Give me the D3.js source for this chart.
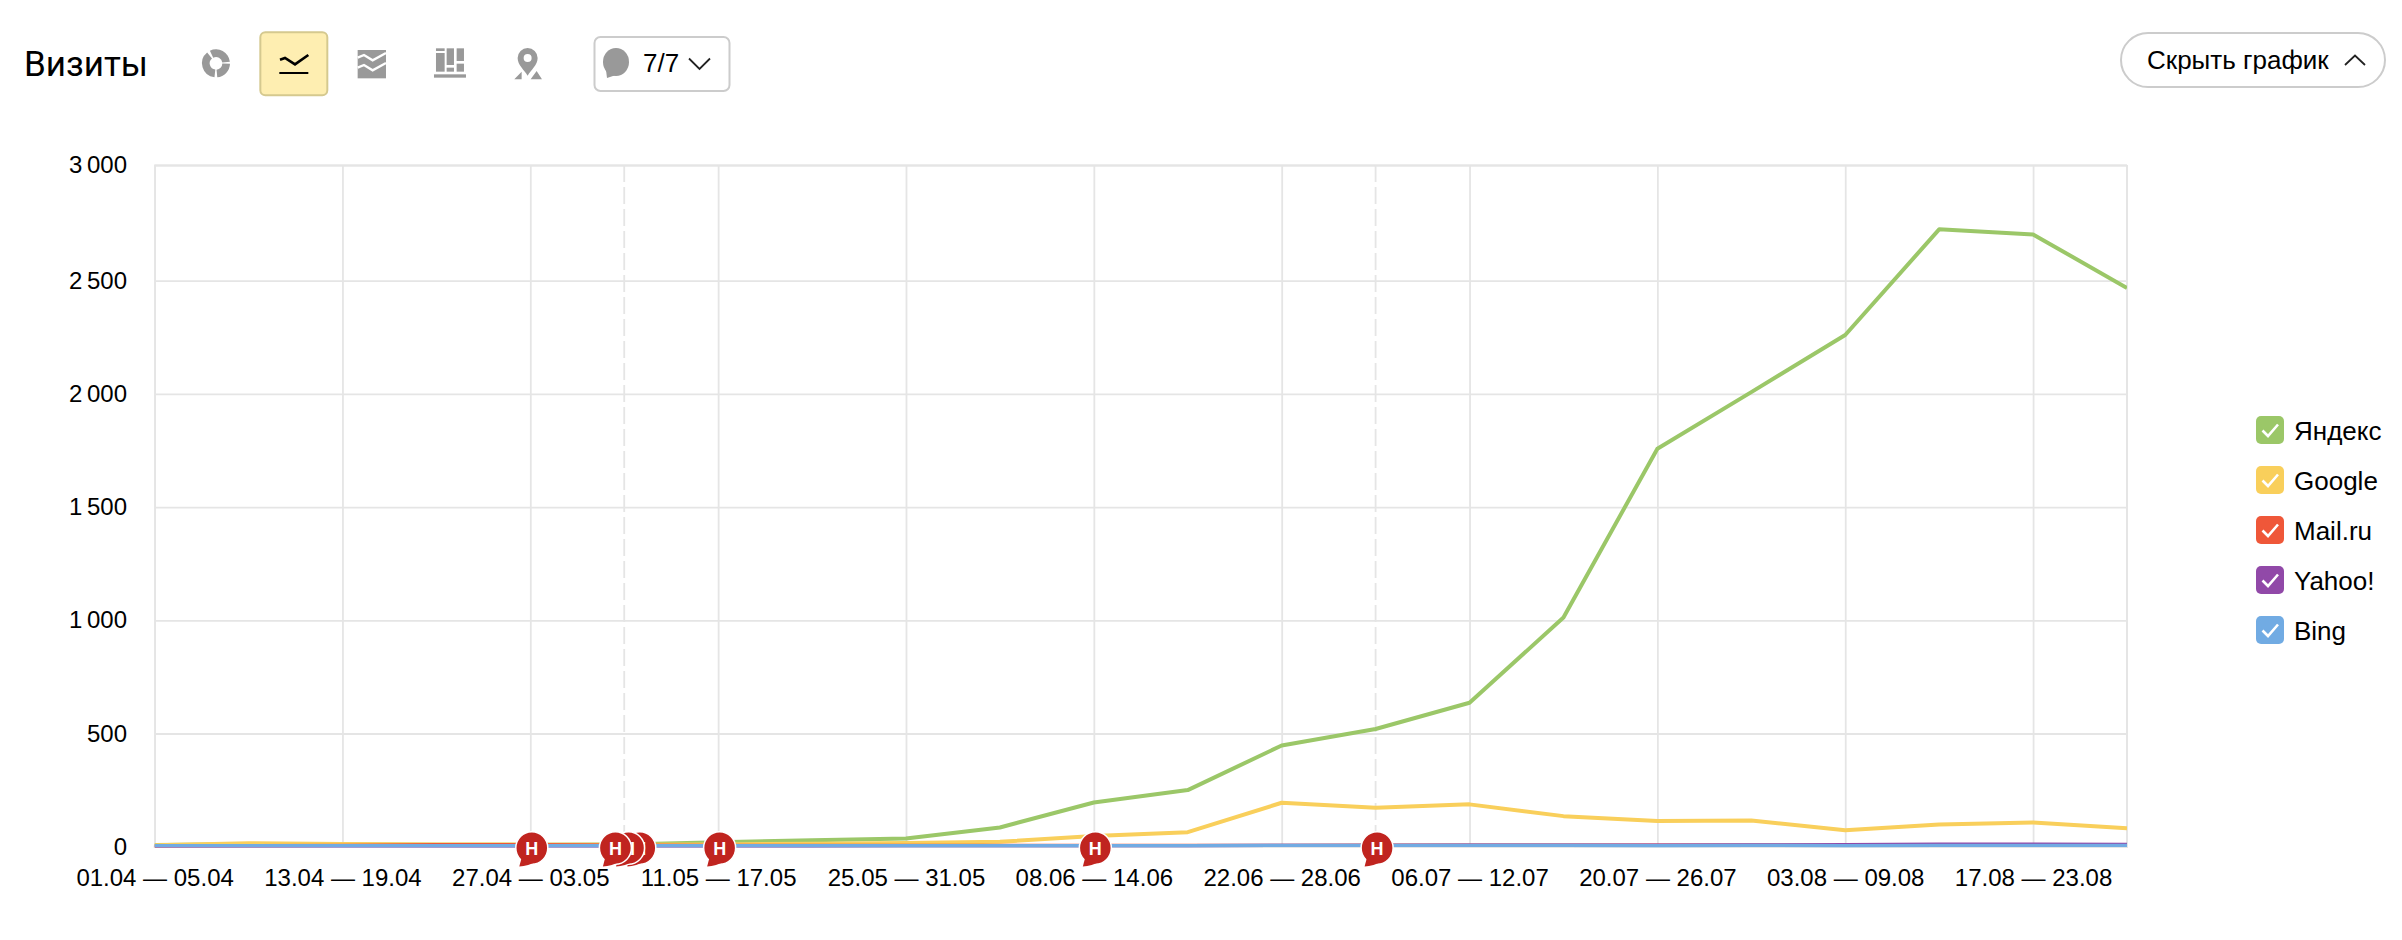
<!DOCTYPE html>
<html lang="ru">
<head>
<meta charset="utf-8">
<title>Визиты</title>
<script src="https://cdn.jsdelivr.net/npm/d3@7"></script>
<style>
html,body{margin:0;padding:0;background:#fff;overflow:hidden}
svg{display:block}
text{font-family:"Liberation Sans",Arial,sans-serif;fill:#000}
</style>
</head>
<body>
<svg id="chart" width="2402" height="940"></svg>
<script>
const categories = ["01.04 — 05.04","06.04 — 12.04","13.04 — 19.04","20.04 — 26.04","27.04 — 03.05","04.05 — 10.05","11.05 — 17.05","18.05 — 24.05","25.05 — 31.05","01.06 — 07.06","08.06 — 14.06","15.06 — 21.06","22.06 — 28.06","29.06 — 05.07","06.07 — 12.07","13.07 — 19.07","20.07 — 26.07","27.07 — 02.08","03.08 — 09.08","10.08 — 16.08","17.08 — 23.08","24.08 — 30.08"];
const yandex = [7,11,10,9,9,10,20,28,36,85,195,250,447,520,636,1012,1758,2008,2260,2722,2700,2468];
const google = [6,15,12,10,9,9,10,13,16,22,47,64,194,172,187,135,113,116,73,98,107,82];
const mailru = [4,5,6,9,9,7,6,6,6,6,6,6,6,7,7,7,7,7,6,7,7,9];
const yahoo  = [3,4,4,4,4,4,4,4,5,5,5,5,6,6,7,7,7,8,9,11,11,10];
const bing   = [5,5,5,5,5,5,5,5,5,5,5,5,6,6,6,6,5,6,5,6,6,6];
const seriesNames = ["Яндекс","Google","Mail.ru","Yahoo!","Bing"];
const seriesValues = [yandex,google,mailru,yahoo,bing];
const seriesColors = ["#9bc768","#f9cf5b","#ef5739","#9149a8","#71abe3"];
const yTicks = [0,500,1000,1500,2000,2500,3000];
const yTickLabels = ["0","500","1 000","1 500","2 000","2 500","3 000"];
const xTickLabels = categories.filter((d,i)=>i%2===0);
const plotLineCategories = ["04.05 — 10.05","29.06 — 05.07"];
const flagPositions = [13,10,6,5.15,5.03,4.89,4];

const svg = d3.select("#chart");
const x = d3.scalePoint().domain(categories).range([154.6,2127]);
const xIndex = d3.scaleLinear().domain([0,categories.length-1]).range([154.6,2127]);
const y = d3.scaleLinear().domain([0,2500,3000]).range([846.7,280.7,165]);
const GRID = "#e5e5e5";

// grid + axes
const gy = svg.append("g").attr("transform","translate(154.6,0)")
  .call(d3.axisLeft(y).tickValues(yTicks).tickSize(-(2127-154.6)).tickPadding(27.6)
    .tickFormat(d=>yTickLabels[yTicks.indexOf(d)]));
gy.select(".domain").attr("stroke",GRID).attr("stroke-width",1.8);
gy.selectAll(".tick line").attr("stroke",GRID).attr("stroke-width",1.8);
gy.selectAll("text").style("font-size","24px").style("word-spacing","-2px").attr("fill","#000");

const gx = svg.append("g").attr("transform","translate(0,846.7)")
  .call(d3.axisBottom(x).tickValues(xTickLabels).tickSize(-(846.7-165)).tickPadding(22));
gx.select(".domain").remove();
gx.selectAll(".tick line").attr("stroke",GRID).attr("stroke-width",1.8);
gx.selectAll("text").style("font-size","24px").attr("fill","#000");

svg.append("line").attr("x1",2127).attr("x2",2127).attr("y1",165).attr("y2",847.7)
  .attr("stroke",GRID).attr("stroke-width",2);
svg.append("line").attr("x1",153.6).attr("x2",2128).attr("y1",846.7).attr("y2",846.7)
  .attr("stroke",GRID).attr("stroke-width",2.2);

svg.selectAll("line.plotline").data(plotLineCategories).join("line")
  .attr("class","plotline").attr("x1",d=>x(d)).attr("x2",d=>x(d)).attr("y1",165).attr("y2",845)
  .attr("stroke",GRID).attr("stroke-width",1.8).attr("stroke-dasharray","17 5");

// series
const line = d3.line().x((d,i)=>x(categories[i])).y(d=>y(d));
svg.append("clipPath").attr("id","plot").append("rect")
  .attr("x",154.6).attr("y",160).attr("width",2127-154.6).attr("height",690);
svg.append("g").attr("clip-path","url(#plot)").selectAll("path").data(seriesValues).join("path")
  .attr("d",line).attr("fill","none").attr("stroke",(d,i)=>seriesColors[i])
  .attr("stroke-width",(d,i)=>i<2?4:3.2).attr("stroke-linejoin","round");

// flags
const flag = svg.append("g").selectAll("g").data(flagPositions).join("g")
  .attr("transform",d=>`translate(${xIndex(d)+1.5},848)`);
flag.append("ellipse").attr("rx",16).attr("ry",16.2).attr("fill","#c0241f")
  .attr("stroke","#fff").attr("stroke-width",1.5);
flag.append("path").attr("d","M-10,9 L-12.5,18.5 Q-4,18 6,13 Z").attr("fill","#c0241f");
flag.append("text").text("Н").attr("text-anchor","middle").attr("y",6.5)
  .style("font-size","18px").style("font-weight","700").style("fill","#fff");

// legend
const lg = svg.append("g").selectAll("g").data(seriesNames).join("g")
  .attr("transform",(d,i)=>`translate(2256,${416+i*50})`);
lg.append("rect").attr("width",28).attr("height",28).attr("rx",5).attr("fill",(d,i)=>seriesColors[i]);
lg.append("path").attr("d","M6.5,14.5 L12,20 L22,8.5").attr("fill","none").attr("stroke","#fff").attr("stroke-width",2.6);
lg.append("text").text(d=>d).attr("x",38).attr("y",23.5).style("font-size","26px");

// header
svg.append("text").text("Визиты").attr("x",24).attr("y",76).style("font-size","35px")
  .style("font-family","Roboto,sans-serif");

// toolbar icons (drawn in an enlarged local space)
const G="#999";
const bar = svg.append("g").attr("transform","translate(190,25) scale(0.3333)");
const arc = d3.arc().innerRadius(19).outerRadius(42);
[[-0.45,1.45],[1.6,3.05],[3.25,5.6]].forEach(a=>{
  bar.append("path").attr("transform","translate(78,115)")
    .attr("d",arc({startAngle:a[0],endAngle:a[1]})).attr("fill",G);
});
bar.append("rect").attr("x",211).attr("y",22).attr("width",201).attr("height",189).attr("rx",15)
  .attr("fill","#feeeb1").attr("stroke","#d5c98f").attr("stroke-width",6);
bar.append("path").attr("d","M270,104 L285,99 L315,118 L355,90").attr("fill","none").attr("stroke","#000").attr("stroke-width",8);
bar.append("rect").attr("x",268).attr("y",141).attr("width",87).attr("height",6).attr("fill","#000");
bar.append("rect").attr("x",503).attr("y",75).attr("width",85).attr("height",85).attr("fill",G);
["M503,98 L522,90 L548,106 L588,84","M503,128 L522,120 L548,136 L588,114"].forEach(d=>
  bar.append("path").attr("d",d).attr("fill","none").attr("stroke","#fff").attr("stroke-width",7));
[[738,84,26,56],[738,70,26,8],[770,70,22,50],[770,128,22,12],[800,70,22,38],[800,116,22,24],[732,148,96,10]].forEach(r=>
  bar.append("rect").attr("x",r[0]).attr("y",r[1]).attr("width",r[2]).attr("height",r[3]).attr("fill",G));
bar.append("path").attr("fill",G).attr("fill-rule","evenodd")
  .attr("d","M1013,152 C1003,135 983,120 983,99 A30,30 0 0 1 1043,99 C1043,120 1023,135 1013,152 Z M1013,87 A12,12 0 1 0 1013,111 A12,12 0 1 0 1013,87 Z");
bar.append("path").attr("fill",G).attr("d","M973,163 L995,140 L995,163 Z M1022,163 L1040,138 L1056,163 Z");

// comments button
svg.append("rect").attr("x",594.5).attr("y",37).attr("width",135).attr("height",54).attr("rx",6)
  .attr("fill","#fff").attr("stroke","#ccc").attr("stroke-width",2);
svg.append("ellipse").attr("cx",616).attr("cy",62).attr("rx",13).attr("ry",14).attr("fill",G);
svg.append("path").attr("d","M606,70 L607,78 L616,75 Z").attr("fill",G);
svg.append("text").text("7/7").attr("x",643).attr("y",72).style("font-size","26px");
svg.append("path").attr("d","M689,58.5 L699.5,69 L710,58.5").attr("fill","none").attr("stroke","#222").attr("stroke-width",1.8);

// hide button
svg.append("rect").attr("x",2121).attr("y",33).attr("width",264).attr("height",54).attr("rx",27)
  .attr("fill","#fff").attr("stroke","#ccc").attr("stroke-width",2);
svg.append("text").text("Скрыть график").attr("x",2147).attr("y",69).style("font-size","26px");
svg.append("path").attr("d","M2345,65 L2355,55.5 L2365,65").attr("fill","none").attr("stroke","#222").attr("stroke-width",1.8);
</script>
</body>
</html>
